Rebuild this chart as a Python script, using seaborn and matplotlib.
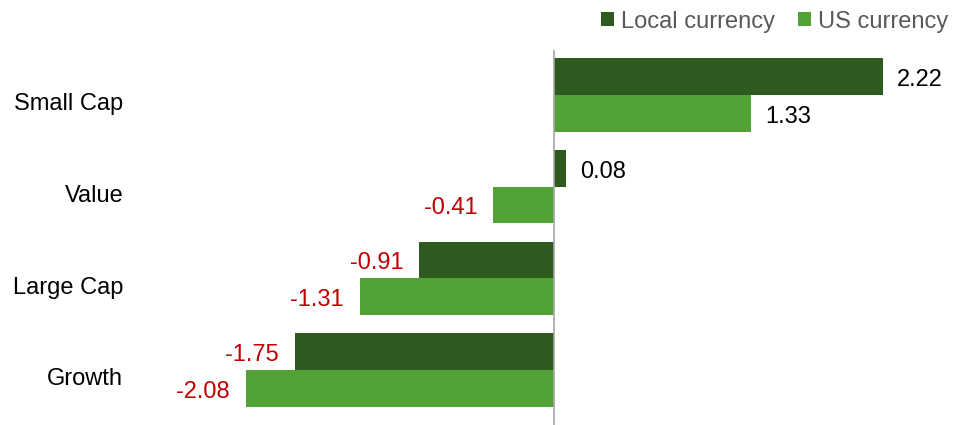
import matplotlib
matplotlib.use("Agg")
import matplotlib.pyplot as plt
import matplotlib.transforms as mtransforms
import seaborn as sns
import pandas as pd
from matplotlib.patches import Patch

categories = ["Small Cap", "Value", "Large Cap", "Growth"]
local_currency = [2.22, 0.08, -0.91, -1.75]
us_currency = [1.33, -0.41, -1.31, -2.08]
series_names = ["Local currency", "US currency"]
colors = ["#2E5A20", "#52A236"]

df = pd.DataFrame({
    "category": categories * 2,
    "value": local_currency + us_currency,
    "series": [series_names[0]] * 4 + [series_names[1]] * 4,
})

sns.set_theme(style="white")
plt.rcParams["font.family"] = ["Liberation Sans", "DejaVu Sans"]

W, H = 970, 425
fig = plt.figure(figsize=(W / 100, H / 100), dpi=100)
left_px, right_px, top_px, bot_px = 140, 950, 50, 425
ax = fig.add_axes([left_px / W, 1 - bot_px / H, (right_px - left_px) / W, (bot_px - top_px) / H])

sns.barplot(data=df, y="category", x="value", hue="series", order=categories,
            hue_order=series_names, palette=colors, orient="h", ax=ax,
            width=0.8, linewidth=0, saturation=1, legend=False)

ax.set_xlim(-2.794, 2.672)
ax.set_ylim(3.6, -0.49)
for s in ax.spines.values():
    s.set_visible(False)
ax.axvline(0, color="#A6A6A6", lw=1.2, zorder=5)
ax.set_xticks([])
ax.set_xlabel("")
ax.set_ylabel("")
ax.tick_params(axis="y", length=0, pad=12, labelsize=17, labelcolor="black")
shift = mtransforms.ScaledTranslation(0, -7 / 100, fig.dpi_scale_trans)
for lab in ax.get_yticklabels():
    lab.set_transform(lab.get_transform() + shift)

for cont in ax.containers:
    for bar in cont:
        v = bar.get_width()
        yc = bar.get_y() + bar.get_height() / 2
        if v >= 0:
            ax.annotate(f"{v:.2f}", (v, yc), xytext=(14, -1), textcoords="offset pixels",
                        ha="left", va="center_baseline", fontsize=17, color="black")
        else:
            ax.annotate(f"{v:.2f}", (v, yc), xytext=(-16, -1), textcoords="offset pixels",
                        ha="right", va="center_baseline", fontsize=17, color="#C00000")

handles = [Patch(facecolor=c, edgecolor="none") for c in colors]
fig.legend(handles, series_names, loc="upper right", bbox_to_anchor=(1.0, 1.025),
           ncol=2, frameon=False, fontsize=17, labelcolor="#595959",
           handlelength=0.55, handleheight=0.55, handletextpad=0.3, columnspacing=1.0)

fig.savefig("out.png", dpi=100)
